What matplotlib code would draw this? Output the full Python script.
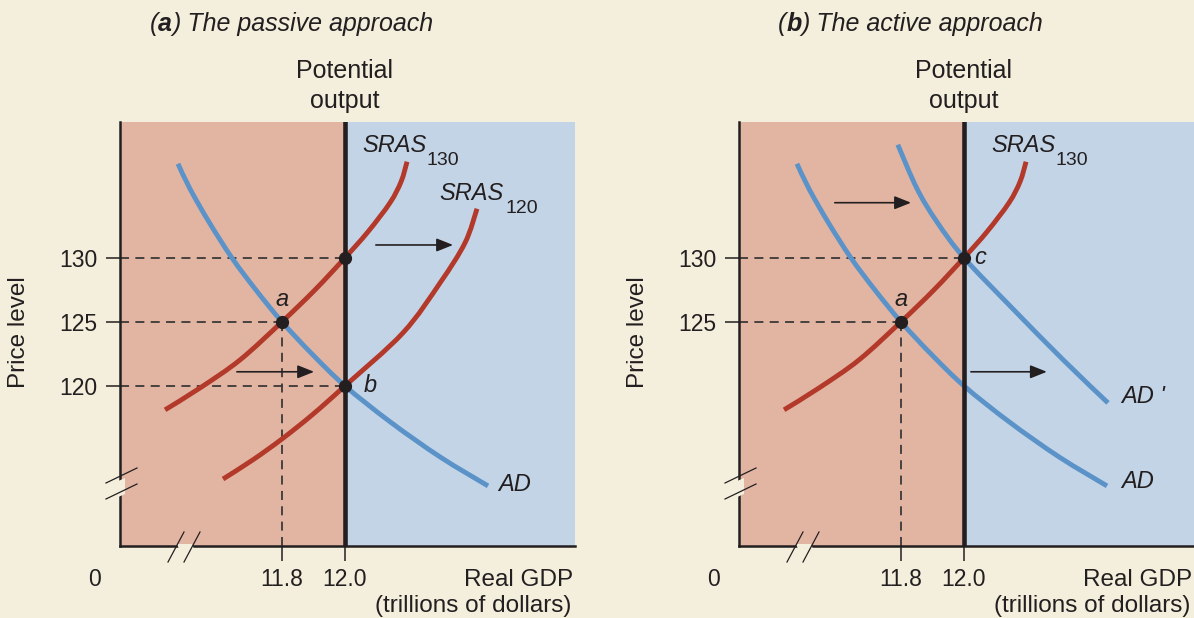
import matplotlib.pyplot as plt
from matplotlib.patches import Polygon, PathPatch
from matplotlib.path import Path
from matplotlib.text import Annotation

# =========================
# Colours / fonts
# =========================
CREAM = "#f3efdc"
PINK = "#e2b5a3"
BLUE_BG = "#c3d4e7"
RED = "#b3392a"
BLUE = "#5b93c9"
INK = "#231f20"

plt.rcParams["font.family"] = ["Liberation Sans", "DejaVu Sans"]

# =========================
# Data (real GDP in trillions, price level)
# =========================
X_MIN, X_MAX = 11.286, 12.73
Y_MIN, Y_MAX = 107.5, 140.6
POTENTIAL = 12.0

PRICE_TICKS_A = [120, 125, 130]
PRICE_TICKS_B = [125, 130]
GDP_TICKS = [11.8, 12.0]
GDP_TICK_LABELS = ["11.8", "12.0"]

AD_GDP = [11.470, 11.508, 11.568, 11.641, 11.717, 11.8, 11.895, 12.0, 12.143, 12.302, 12.454]
AD_PRICE = [137.34, 135.39, 132.81, 130.0, 127.5, 125.0, 122.5, 120.0, 117.2, 114.45, 112.19]

AD2_GDP = [11.790, 11.851, 11.914, 12.0, 12.149, 12.315, 12.457]
AD2_PRICE = [138.83, 135.39, 132.81, 130.0, 126.17, 122.03, 118.67]

SRAS130_GDP = [11.429, 11.540, 11.667, 11.8, 11.905, 12.0, 12.073, 12.143, 12.178, 12.197]
SRAS130_PRICE = [118.13, 119.84, 122.03, 125.0, 127.5, 130.0, 132.03, 134.30, 135.94, 137.5]

SRAS120_GDP = [11.613, 11.708, 11.803, 11.898, 12.0, 12.184, 12.302, 12.381, 12.419]
SRAS120_PRICE = [112.73, 114.23, 115.91, 117.78, 120.0, 124.14, 128.05, 131.17, 133.83]

# equilibrium points
PTS_A_GDP = [11.8, 12.0, 12.0]
PTS_A_PRICE = [125, 120, 130]
PTS_B_GDP = [11.8, 12.0]
PTS_B_PRICE = [125, 130]


def px_to_axes(px, py, left=120):
    # decorations measured on the picture, relative to the axes box
    return ((px - left) / 455.0, (546 - py) / 424.0)


def smooth_curve(ax, xs, ys, color):
    # cubic bezier through the read points (catmull-rom handles)
    pts = list(zip(xs, ys))
    n = len(pts)
    verts = [pts[0]]
    codes = [Path.MOVETO]
    for i in range(n - 1):
        p0 = pts[max(i - 1, 0)]
        p1 = pts[i]
        p2 = pts[i + 1]
        p3 = pts[min(i + 2, n - 1)]
        c1 = (p1[0] + (p2[0] - p0[0]) / 6, p1[1] + (p2[1] - p0[1]) / 6)
        c2 = (p2[0] - (p3[0] - p1[0]) / 6, p2[1] - (p3[1] - p1[1]) / 6)
        verts += [c1, c2, p2]
        codes += [Path.CURVE4] * 3
    patch = PathPatch(Path(verts, codes), facecolor="none", edgecolor=color,
                      lw=3.5, capstyle="butt", joinstyle="round", zorder=2)
    ax.add_patch(patch)


def setup_axes(ax, yticks):
    ax.set_xlim(X_MIN, X_MAX)
    ax.set_ylim(Y_MIN, Y_MAX)
    ax.set_facecolor("none")
    ax.axvspan(X_MIN, POTENTIAL, color=PINK, lw=0, zorder=0)
    ax.axvspan(POTENTIAL, X_MAX, color=BLUE_BG, lw=0, zorder=0)

    for s in ["top", "right"]:
        ax.spines[s].set_visible(False)
    for s in ["left", "bottom"]:
        ax.spines[s].set_linewidth(1.8)
        ax.spines[s].set_color(INK)
        ax.spines[s].set_zorder(5)

    ax.set_yticks(yticks)
    ax.set_yticklabels([str(t) for t in yticks])
    ax.set_xticks(GDP_TICKS)
    ax.set_xticklabels(GDP_TICK_LABELS)
    ax.tick_params(axis="y", direction="out", length=10, width=1.1, color=INK,
                   labelsize=16.5, labelcolor=INK, pad=6)
    ax.tick_params(axis="x", direction="out", length=11, width=1.1, color=INK,
                   labelsize=16.5, labelcolor=INK, pad=5)

    ax.axvline(POTENTIAL, color=INK, lw=3.3, zorder=4)

    ax.text(-0.222, 0.505, "Price level", transform=ax.transAxes, rotation=90,
            ha="center", va="center", fontsize=17.5, color=INK)
    ax.text(POTENTIAL, 1.085, "Potential\noutput", transform=ax.get_xaxis_transform(),
            ha="center", va="center", fontsize=18, color=INK, linespacing=1.3)
    ax.text(-0.055, -0.080, "0", transform=ax.transAxes, ha="center", va="center",
            fontsize=16.5, color=INK)
    ax.text(0.996, -0.080, "Real GDP", transform=ax.transAxes, ha="right", va="center",
            fontsize=17.5, color=INK)
    ax.text(0.993, -0.142, "(trillions of dollars)", transform=ax.transAxes, ha="right",
            va="center", fontsize=17.5, color=INK)

    # axis breaks
    y_gap = Polygon([px_to_axes(116, 482), px_to_axes(125, 478),
                     px_to_axes(125, 494), px_to_axes(116, 498)],
                    closed=True, transform=ax.transAxes, facecolor=CREAM,
                    edgecolor="none", clip_on=False, zorder=6)
    ax.add_patch(y_gap)
    x_gap = Polygon([px_to_axes(177, 544), px_to_axes(179, 549),
                     px_to_axes(194, 549), px_to_axes(192, 544)],
                    closed=True, transform=ax.transAxes, facecolor=CREAM,
                    edgecolor="none", clip_on=False, zorder=6)
    ax.add_patch(x_gap)
    for (x0, y0), (x1, y1) in [((106, 483), (137, 468)), ((106, 499), (137, 484)),
                               ((168, 562), (184, 532)), ((184, 562), (200, 532))]:
        a0 = px_to_axes(x0, y0)
        a1 = px_to_axes(x1, y1)
        ax.plot([a0[0], a1[0]], [a0[1], a1[1]], transform=ax.transAxes,
                color=INK, lw=0.9, clip_on=False, zorder=7)


def dashed_guides(ax, gdp, price, vertical=False):
    kw = dict(color="#3b3838", lw=1.3, linestyle=(0, (5, 3.5)), zorder=1)
    ax.plot([X_MIN, gdp], [price, price], **kw)
    if vertical:
        ax.plot([gdp, gdp], [Y_MIN, price], **kw)


def arrow(ax, x0, x1, y):
    ax.annotate("", xy=(x1, y), xytext=(x0, y),
                arrowprops=dict(arrowstyle="-|>,head_length=0.5,head_width=0.2",
                                lw=1.2, color=INK, shrinkA=0, shrinkB=0,
                                mutation_scale=20), zorder=3)


def sras_label(ax, x, y, sub_x, sub_y, sub):
    ax.text(x, y, "SRAS", ha="left", va="center", fontsize=17, style="italic", color=INK)
    ax.text(sub_x, sub_y, sub, ha="left", va="center", fontsize=14, color=INK)


fig = plt.figure(figsize=(11.94, 6.18), dpi=100, facecolor=CREAM)
ax_a = fig.add_axes([120 / 1194, 72 / 618, 455 / 1194, 424 / 618])
ax_b = fig.add_axes([739 / 1194, 72 / 618, 455 / 1194, 424 / 618])

# =========================
# (a) passive
# =========================
setup_axes(ax_a, PRICE_TICKS_A)
dashed_guides(ax_a, 12.0, 130)
dashed_guides(ax_a, 11.8, 125, vertical=True)
dashed_guides(ax_a, 12.0, 120)
smooth_curve(ax_a, AD_GDP, AD_PRICE, BLUE)
smooth_curve(ax_a, SRAS130_GDP, SRAS130_PRICE, RED)
smooth_curve(ax_a, SRAS120_GDP, SRAS120_PRICE, RED)
ax_a.plot(PTS_A_GDP, PTS_A_PRICE, "o", color=INK, ms=8.5, zorder=6)
arrow(ax_a, 12.098, 12.343, 131.0)
arrow(ax_a, 11.657, 11.902, 121.1)
ax_a.annotate("a", xy=(11.8, 125), xytext=(0, 16), textcoords="offset points",
              ha="center", va="center", fontsize=17, style="italic", color=INK)
ax_a.annotate("b", xy=(12.0, 120), xytext=(18, 0), textcoords="offset points",
              ha="center", va="center", fontsize=17, style="italic", color=INK)
sras_label(ax_a, 12.054, 138.75, 12.260, 137.6, "130")
sras_label(ax_a, 12.298, 135.0, 12.508, 133.85, "120")
ax_a.text(12.486, 112.27, "AD", ha="left", va="center", fontsize=17,
          style="italic", color=INK)

# =========================
# (b) active
# =========================
setup_axes(ax_b, PRICE_TICKS_B)
dashed_guides(ax_b, 12.0, 130)
dashed_guides(ax_b, 11.8, 125, vertical=True)
smooth_curve(ax_b, AD_GDP, AD_PRICE, BLUE)
smooth_curve(ax_b, AD2_GDP, AD2_PRICE, BLUE)
smooth_curve(ax_b, SRAS130_GDP, SRAS130_PRICE, RED)
ax_b.plot(PTS_B_GDP, PTS_B_PRICE, "o", color=INK, ms=8.5, zorder=6)
arrow(ax_b, 11.590, 11.832, 134.3)
arrow(ax_b, 12.022, 12.263, 121.1)
ax_b.annotate("a", xy=(11.8, 125), xytext=(0, 16), textcoords="offset points",
              ha="center", va="center", fontsize=17, style="italic", color=INK)
ax_b.annotate("c", xy=(12.0, 130), xytext=(12, 0), textcoords="offset points",
              ha="center", va="center", fontsize=17, style="italic", color=INK)
sras_label(ax_b, 12.086, 138.75, 12.292, 137.6, "130")
ax_b.text(12.498, 112.5, "AD", ha="left", va="center", fontsize=17,
          style="italic", color=INK)
ax_b.text(12.498, 119.14, "AD '", ha="left", va="center", fontsize=17,
          style="italic", color=INK)


# =========================
# titles: "(a) The passive approach" with the letter in bold
# =========================
def panel_title(x, letter, rest):
    t1 = fig.text(x, 1 - 24 / 618, "(", ha="left", va="center", fontsize=18,
                  style="italic", color=INK)
    t2 = fig.add_artist(Annotation(letter, xy=(1, 0), xycoords=t1, va="bottom",
                                   ha="left", fontsize=18, style="italic",
                                   weight="bold", color=INK))
    fig.add_artist(Annotation(") " + rest, xy=(1, 0), xycoords=t2, va="bottom",
                              ha="left", fontsize=18, style="italic", color=INK))


panel_title(150 / 1194, "a", "The passive approach")
panel_title(778 / 1194, "b", "The active approach")

fig.savefig("out.png", dpi=100, facecolor=CREAM)
